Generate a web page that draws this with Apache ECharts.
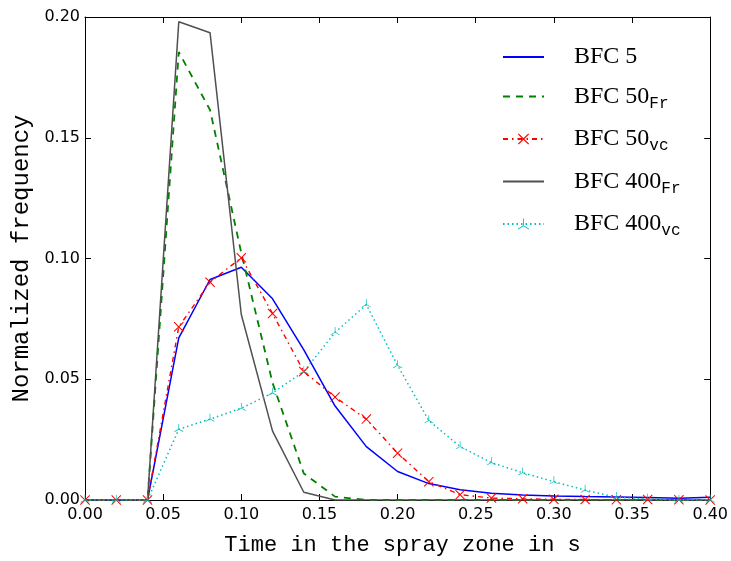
<!DOCTYPE html>
<html>
<head>
<meta charset="utf-8">
<script src="https://cdn.jsdelivr.net/npm/echarts@6/dist/echarts.min.js"></script>
<style>
  html, body { margin: 0; padding: 0; background: #fff; }
  #chart { width: 731px; height: 561px; }
</style>
</head>
<body>
<div id="chart"></div>
<script>
const times = [0.00, 0.02, 0.04, 0.06, 0.08, 0.10, 0.12, 0.14, 0.16, 0.18, 0.20,
  0.22, 0.24, 0.26, 0.28, 0.30, 0.32, 0.34, 0.36, 0.38, 0.40]

const bfc5 = [0, 0, 0, 0.0671, 0.0913, 0.0964, 0.0833, 0.0622, 0.0389, 0.0221, 0.0118,
  0.0068, 0.0042, 0.0028, 0.0021, 0.0017, 0.0014, 0.0012, 0.0010, 0.0007, 0.0011]
const bfc50Fr = [0, 0, 0, 0.1855, 0.1615, 0.1023, 0.0485, 0.0110, 0.0014, 0, 0,
  0, 0, 0, 0, 0, 0, 0, 0, 0, 0]
const bfc50vc = [0, 0, 0, 0.0717, 0.0902, 0.1003, 0.0772, 0.0532, 0.0426, 0.0335, 0.0194,
  0.0076, 0.0022, 0.0008, 0.0005, 0.0003, 0.0002, 0.0001, 0.0002, 0.0001, 0]
const bfc400Fr = [0, 0, 0, 0.1980, 0.1935, 0.0768, 0.0285, 0.0032, 0, 0, 0,
  0, 0, 0, 0, 0, 0, 0, 0, 0, 0]
const bfc400vc = [0, 0, 0, 0.0293, 0.0335, 0.0380, 0.0443, 0.0532, 0.0694, 0.0809, 0.0557,
  0.0329, 0.0221, 0.0155, 0.0113, 0.0076, 0.0041, 0.0011, 0.0005, 0, 0]

const xTicks = { min: 0, max: 0.4, interval: 0.05 }
const yTicks = { min: 0, max: 0.2, interval: 0.05 }

// thin filled arms from a centre, used for the 'x' and 'tri_up' markers
function armsPath (ends, t) {
  let d = ''
  ends.forEach(([ex, ey]) => {
    const len = Math.sqrt(ex * ex + ey * ey)
    const px = -ey / len * t / 2
    const py = ex / len * t / 2
    d += `M${px},${py}L${ex + px},${ey + py}L${ex - px},${ey - py}L${-px},${-py}Z`
  })
  return 'path://' + d
}
const crossSymbol = armsPath([[5, 5], [-5, 5], [5, -5], [-5, -5]], 1.1)
const triSymbol = armsPath([[0, -10], [-8.66, 5], [8.66, 5]], 1.4)

const pairs = vals => times.map((t, i) => [t, vals[i]])

const tickFont = { fontFamily: 'DejaVu Sans', fontSize: 16, color: '#000' }
const titleFont = { fontFamily: 'Liberation Mono', fontSize: 22, color: '#000' }
const black = { color: '#000', width: 1 }
const noMarker = { color: 'rgba(0,0,0,0)', opacity: 0 }

function axisBase (ticks, extra) {
  return Object.assign({
    type: 'value',
    min: ticks.min,
    max: ticks.max,
    interval: ticks.interval,
    axisLine: { show: true, onZero: false, lineStyle: black },
    axisTick: { show: true, inside: true, length: 6, lineStyle: black },
    splitLine: { show: false }
  }, extra)
}

const chart = echarts.init(document.getElementById('chart'))
chart.setOption({
  animation: false,
  backgroundColor: '#fff',
  grid: { left: 85, right: 19, top: 17, bottom: 61 },
  xAxis: [
    axisBase(xTicks, {
      position: 'bottom',
      axisLabel: Object.assign({ margin: 7, formatter: v => v.toFixed(2) }, tickFont),
      name: 'Time in the spray zone in s',
      nameLocation: 'middle',
      nameGap: 34,
      nameTextStyle: Object.assign({ padding: [0, 0, 0, 10] }, titleFont)
    }),
    axisBase(xTicks, { position: 'top', axisLabel: { show: false } })
  ],
  yAxis: [
    axisBase(yTicks, {
      position: 'left',
      axisLabel: Object.assign({ margin: 5, formatter: v => v.toFixed(2) }, tickFont),
      name: 'Normalized frequency',
      nameLocation: 'middle',
      nameGap: 45,
      nameTextStyle: Object.assign({}, titleFont, { fontSize: 24 })
    }),
    axisBase(yTicks, { position: 'right', axisLabel: { show: false } })
  ],
  legend: {
    orient: 'vertical',
    left: 497,
    top: 40,
    itemWidth: 41,
    itemHeight: 14,
    itemGap: 15.5,
    data: [
      { name: 'BFC 5', itemStyle: noMarker },
      { name: 'BFC 50_Fr', itemStyle: noMarker },
      { name: 'BFC 50_vc' },
      { name: 'BFC 400_Fr', itemStyle: noMarker },
      { name: 'BFC 400_vc' }
    ],
    textStyle: {
      padding: [0, 0, 0, 25],
      rich: {
        m: { fontFamily: 'Liberation Serif', fontSize: 24, color: '#000', lineHeight: 30 },
        s: { fontFamily: 'Liberation Mono', fontSize: 16, color: '#000', lineHeight: 2, verticalAlign: 'bottom' }
      }
    },
    formatter (name) {
      const parts = name.split('_')
      return parts.length > 1 ? `{m|${parts[0]}}{s|${parts[1]}}` : `{m|${parts[0]}}`
    }
  },
  series: [
    {
      name: 'BFC 5',
      type: 'line',
      data: pairs(bfc5),
      symbol: 'none',
      lineStyle: { color: '#0000ff', width: 1.5 },
      itemStyle: { color: '#0000ff' }
    },
    {
      name: 'BFC 50_Fr',
      type: 'line',
      data: pairs(bfc50Fr),
      symbol: 'none',
      lineStyle: { color: '#008000', width: 1.8, type: [7, 6] },
      itemStyle: { color: '#008000' }
    },
    {
      name: 'BFC 50_vc',
      type: 'line',
      data: pairs(bfc50vc),
      symbol: crossSymbol,
      symbolSize: 10,
      lineStyle: { color: '#ff0000', width: 1.4, type: [5, 4, 1.5, 4] },
      itemStyle: { color: '#ff0000', borderWidth: 0 }
    },
    {
      name: 'BFC 400_Fr',
      type: 'line',
      data: pairs(bfc400Fr),
      symbol: 'none',
      lineStyle: { color: '#505050', width: 1.5 },
      itemStyle: { color: '#505050' }
    },
    {
      name: 'BFC 400_vc',
      type: 'line',
      data: pairs(bfc400vc),
      symbol: triSymbol,
      symbolSize: [9, 8],
      symbolOffset: [0, -1.3],
      lineStyle: { color: '#00bfbf', width: 1.5, type: [1.5, 3] },
      itemStyle: { color: '#00bfbf', borderWidth: 0 }
    }
  ]
})
</script>
</body>
</html>
